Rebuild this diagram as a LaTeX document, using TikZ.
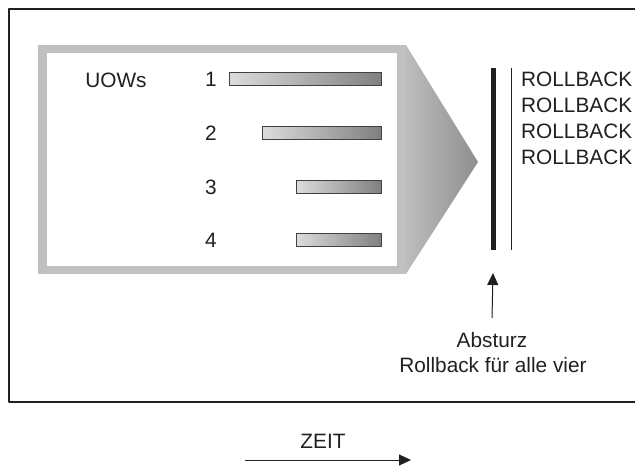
\documentclass[tikz,border=0pt]{standalone}
\usepackage{fontspec}
\setmainfont{Liberation Sans}
\usetikzlibrary{arrows.meta,positioning,calc}
\definecolor{rahmengrau}{RGB}{192,192,192}
\definecolor{textfarbe}{RGB}{35,31,32}
\tikzset{
  txt/.style={font=\fontsize{20.8}{25}\selectfont, text=textfarbe, inner sep=0pt},
  uowbar/.style={draw=black!75, line width=1pt, left color=black!14, right color=black!50, inner sep=0pt, minimum height=13pt, anchor=east},
  pfeil/.style={-{Triangle[length=12pt,width=11pt]}, line width=1pt, draw=textfarbe},
}
\newcommand \mybar[3]
{
\node[txt] (n#1) at (211,#3) {#1};
\node[uowbar, minimum width={382pt-#2pt}] (bar#1) at (382,#3) {};
}

\begin{document}
\begin{tikzpicture}[x=1pt, y=-1pt, line join=round]
\useasboundingbox (0,0) rectangle (635,466);
% Rahmen
\draw[line width=1.3pt, textfarbe] (635,9) -- (9,9) -- (9,402) -- (635,402);
% graue Box mit Pfeilspitze
\fill[rahmengrau] (38,45) rectangle (406,274);
\fill[white] (47,53) rectangle (397,266);
\shade[left color=black!26, right color=black!44] (406,45) -- (478,162) -- (406,274) -- cycle;
\node[txt] (uows) at (116,80) {UOWs};
\mybar{1}{230}{79}
\mybar{2}{263}{133}
\mybar{3}{297}{187}
\mybar{4}{297}{240}
% Absturz
\coordinate (s1) at (493.5,68);
\coordinate (s2) at (493.5,250);
\coordinate (t1) at (511,68);
\coordinate (t2) at (511,250);
\draw[line width=5pt, textfarbe] (s1) -- (s2);
\draw[line width=1pt, textfarbe] (t1) -- (t2);
\foreach \i/\y in {1/79, 2/105, 3/131, 4/157}
  \node[txt, anchor=west] (rb\i) at (521,\y) {ROLLBACK};
\node[txt] (absturz) at (492,340) {Absturz};
\node[txt] (alle) at (493,365) {Rollback für alle vier};
\coordinate (crash) at (493,273);
\draw[pfeil] ([yshift=14pt]absturz.north) -- (crash);
% Zeitachse
\coordinate (zeitstart) at (245,460);
\coordinate (zeitende) at (411,460);
\node[txt] (zeit) at (323,441) {ZEIT};
\draw[pfeil] (zeitstart) -- (zeitende);
\end{tikzpicture}
\end{document}
